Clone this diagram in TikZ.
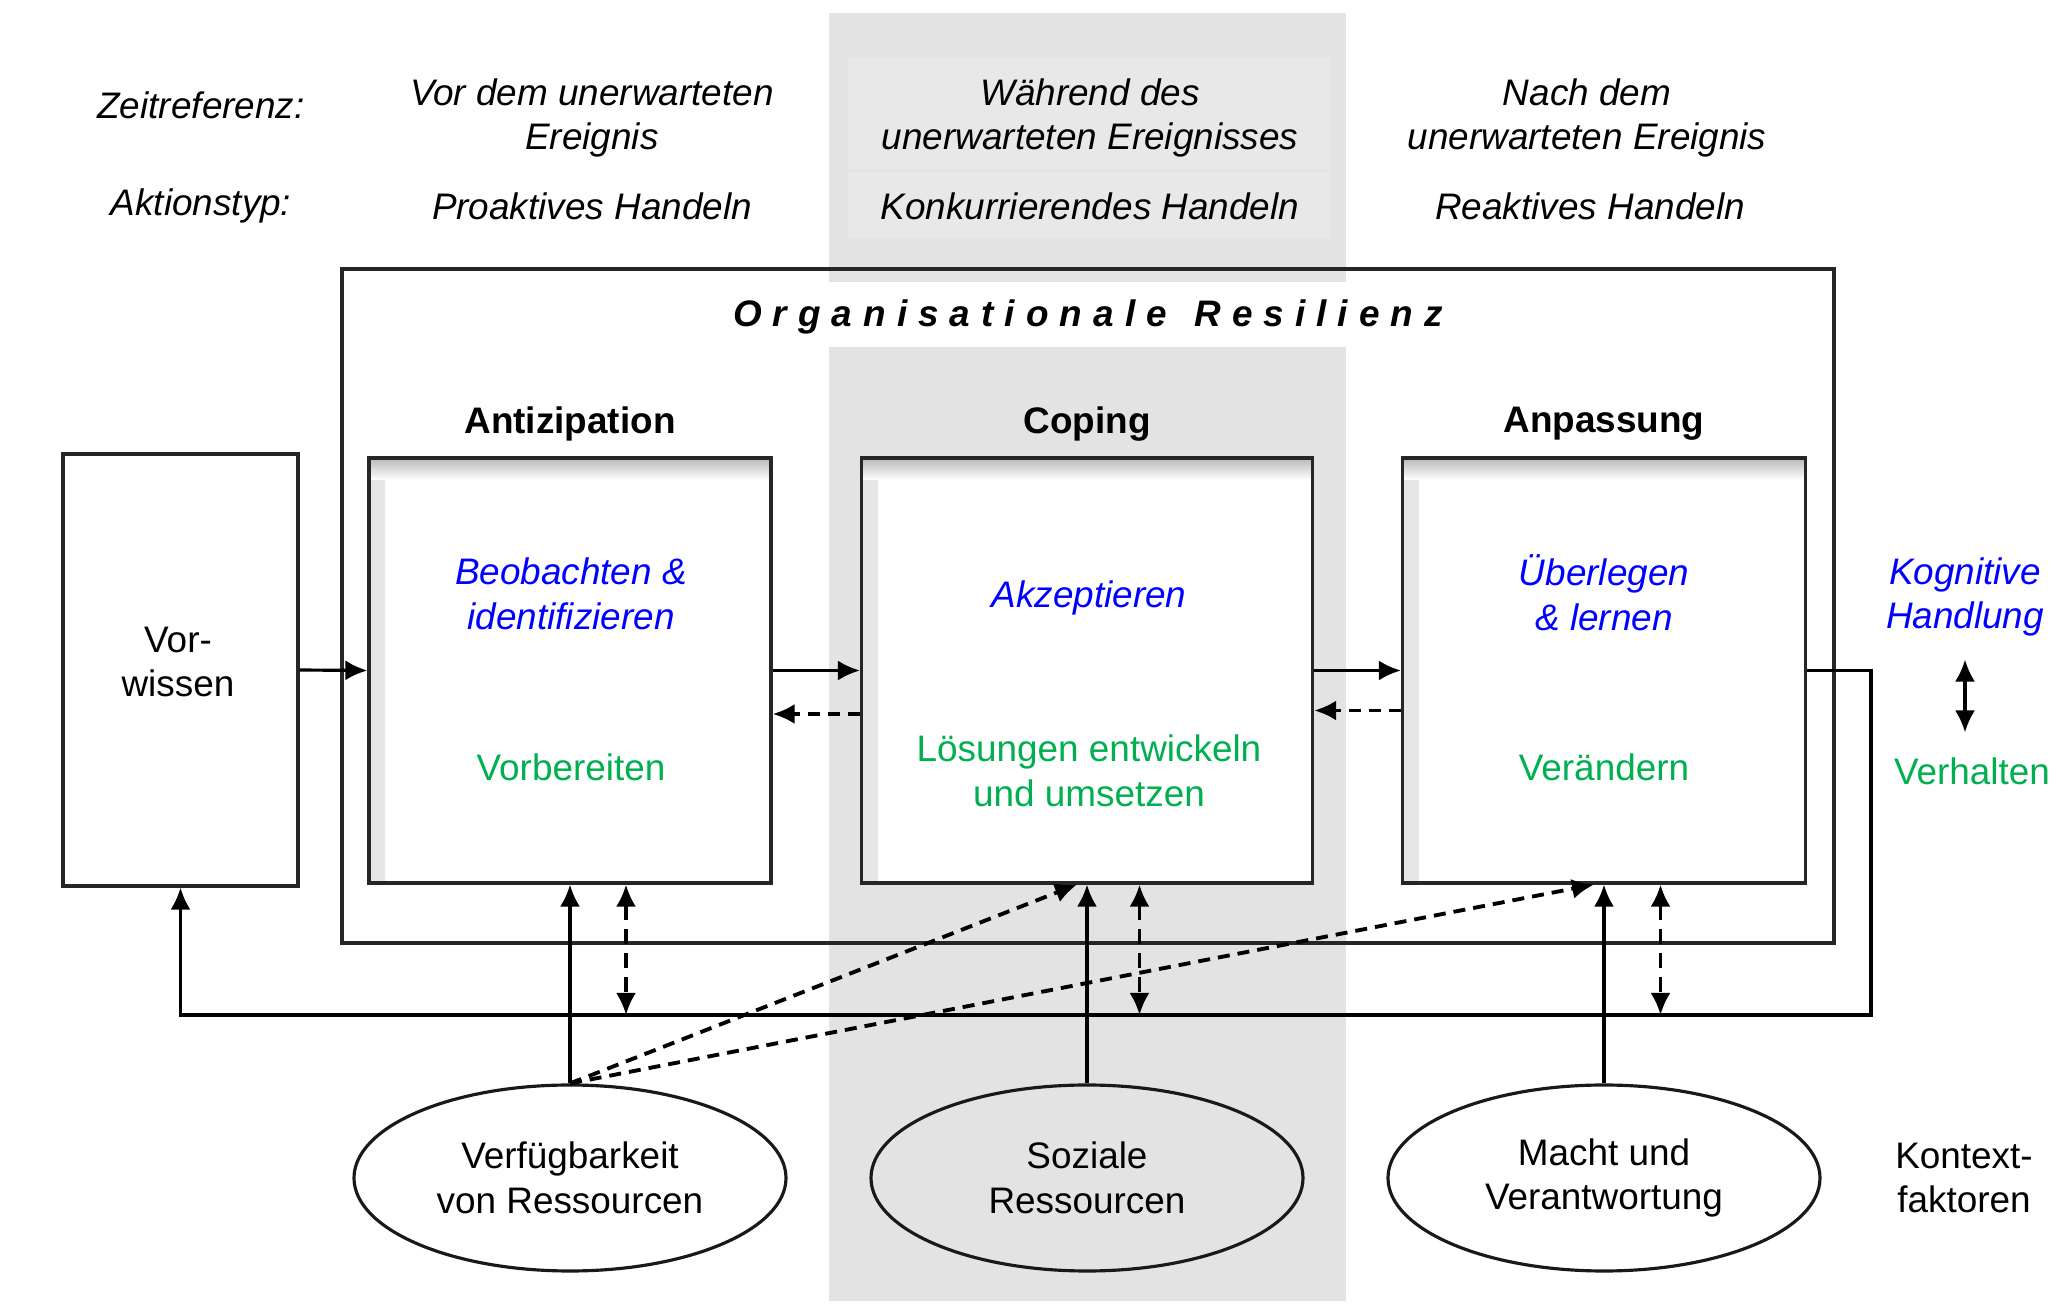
\documentclass[tikz,border=0pt]{standalone}
\usepackage{fontspec}
\setmainfont{Liberation Sans}
\usetikzlibrary{arrows.meta,shapes.geometric}
\definecolor{cognitionblue}{HTML}{0000FF}
\definecolor{behaviourgreen}{HTML}{00B050}
\definecolor{bandgray}{HTML}{E3E3E3}
\definecolor{bandlight}{HTML}{E8E8E8}

\begin{document}
\fontsize{10.5pt}{12.7pt}\selectfont
\begin{tikzpicture}[x=1cm,y=1cm,>={Latex[length=2.2mm,width=2mm]},line join=miter,
  timetext/.style={font=\itshape,align=center},
  headtext/.style={font=\bfseries},
  cogtext/.style={text=cognitionblue,font=\itshape,align=center},
  acttext/.style={text=behaviourgreen,align=center},
  plainbox/.style={draw=black!85,line width=0.9pt,fill=white},
  phasebox/.style={plainbox,minimum height=4.25cm,
    path picture={
      \shade[left color=black!10,right color=white]
        (path picture bounding box.south west) rectangle
        ([xshift=0.16cm]path picture bounding box.north west);
      \shade[top color=black!28,bottom color=white]
        (path picture bounding box.north west) rectangle
        ([yshift=-0.22cm]path picture bounding box.north east);
    }},
  factor/.style={ellipse,draw=black!90,line width=0.9pt,fill=white,
    minimum width=4.32cm,minimum height=1.86cm,align=center},
  flow/.style={->,line width=0.9pt},
  backflow/.style={->,line width=1.1pt,dash pattern=on 1.2mm off 0.8mm},
  bothflow/.style={<->,line width=1pt,dash pattern=on 1.5mm off 0.9mm}]
  \useasboundingbox (0,0) rectangle (20.57,13.04);
  \fill[white] (0,0) rectangle (20.57,13.04);

  % Shaded column for the phase during the event.
  \fill[bandgray] (8.29,0.03) rectangle (13.46,12.91);
  \fill[bandlight] (8.48,11.34) rectangle (13.30,12.46);
  \fill[bandlight] (8.48,10.66) rectangle (13.30,11.32);
  \fill[white] (8.29,9.57) rectangle (13.46,10.22);

  % Time reference and type of action.
  \node[timetext] (zeitlabel) at (2.01,11.99) {Zeitreferenz:};
  \node[timetext] (zeitvor) at (5.92,11.86) {Vor dem unerwarteten\\Ereignis};
  \node[timetext] (zeitwaehrend) at (10.90,11.86) {Während des\\unerwarteten Ereignisses};
  \node[timetext] (zeitnach) at (15.87,11.86) {Nach dem\\unerwarteten Ereignis};
  \node[timetext] (aktionlabel) at (2.01,10.98) {Aktionstyp:};
  \node[timetext] (aktionpro) at (5.92,10.98) {Proaktives Handeln};
  \node[timetext] (aktionkon) at (10.90,10.98) {Konkurrierendes Handeln};
  \node[timetext] (aktionre) at (15.90,10.98) {Reaktives Handeln};

  % Frame of organisational resilience.
  \draw[black!85,line width=0.9pt] (3.42,3.61) rectangle (18.34,10.35);
  \node[font=\bfseries\itshape\addfontfeatures{LetterSpace=30}] (title)
    at (10.88,9.87) {Organisationale\, Resilienz};

  \node[headtext] (anthead) at (5.70,8.80) {Antizipation};
  \node[headtext] (cophead) at (10.87,8.80) {Coping};
  \node[headtext] (anphead) at (16.04,8.80) {Anpassung};

  % Boxes.
  \node[plainbox,minimum width=2.35cm,minimum height=4.32cm] (vorbox) at (1.805,6.34) {};
  \node[align=center] (vortext) at (1.78,6.42) {Vor-\\wissen};
  \node[phasebox,minimum width=4.02cm] (antbox) at (5.70,6.335) {};
  \node[phasebox,minimum width=4.51cm] (copbox) at (10.87,6.335) {};
  \node[phasebox,minimum width=4.03cm] (anpbox) at (16.04,6.335) {};

  \node[cogtext] (antcog) at (5.71,7.10) {Beobachten \&\\identifizieren};
  \node[acttext] (antact) at (5.71,5.37) {Vorbereiten};
  \node[cogtext] (copcog) at (10.89,7.06) {Akzeptieren};
  \node[acttext] (copact) at (10.89,5.33) {Lösungen entwickeln\\und umsetzen};
  \node[cogtext] (anpcog) at (16.04,7.11) {Überlegen\\\& lernen};
  \node[acttext] (anpact) at (16.04,5.37) {Verändern};

  \node[cogtext] (kogn) at (19.65,7.07) {Kognitive\\Handlung};
  \node[acttext] (verh) at (19.72,5.33) {Verhalten};
  \draw[<->,line width=0.9pt,shorten <=0.1cm,shorten >=0.12cm]
    (kogn.south) -- (kogn.south |- verh.north);

  % Flow between the phases.
  \draw[flow] (vorbox.east) -- (antbox.west);
  \draw[flow] (antbox.east) -- (copbox.west);
  \draw[backflow] ([yshift=-0.435cm]copbox.west) -- ([yshift=-0.435cm]antbox.east);
  \draw[flow] (copbox.east) -- (anpbox.west);
  \draw[backflow] ([yshift=-0.40cm]anpbox.west) -- ([yshift=-0.40cm]copbox.east);

  % Feedback loop back to prior knowledge.
  \coordinate (loopR) at (18.71,2.89);
  \draw[flow] (anpbox.east) -| (loopR) -| (vorbox.south);

  % Context factors.
  \node[factor] (verf) at (5.70,1.26) {Verfügbarkeit\\von Ressourcen};
  \node[factor,fill=bandgray] (sozial) at (10.87,1.26) {Soziale\\Ressourcen};
  \node[factor] (macht) at (16.04,1.26) {Macht und\\Verantwortung};
  \node[align=center] (kontext) at (19.64,1.26) {Kontext-\\faktoren};

  \draw[flow] (verf.north) -- (antbox.south);
  \draw[flow] (sozial.north) -- (copbox.south);
  \draw[flow] (macht.north) -- (anpbox.south);
  \draw[backflow] (verf.north) -- ([xshift=-0.1cm]copbox.south);
  \draw[backflow] (verf.north) -- ([xshift=-0.1cm]anpbox.south);

  \draw[bothflow] ([xshift=0.56cm]antbox.south) -- ([xshift=0.56cm]antbox.south |- loopR);
  \draw[bothflow] ([xshift=0.525cm]copbox.south) -- ([xshift=0.525cm]copbox.south |- loopR);
  \draw[bothflow] ([xshift=0.565cm]anpbox.south) -- ([xshift=0.565cm]anpbox.south |- loopR);
\end{tikzpicture}
\end{document}
